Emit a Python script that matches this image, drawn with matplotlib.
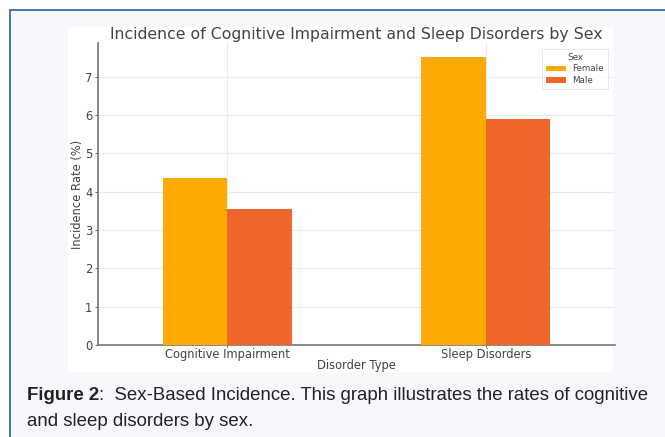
import numpy as np
import matplotlib.pyplot as plt
from matplotlib.patches import Rectangle

plt.rcParams['font.family'] = ['DejaVu Sans']

# data
categories = ['Cognitive Impairment', 'Sleep Disorders']
sexes = ['Female', 'Male']
female_rate = [4.35, 7.5]
male_rate = [3.55, 5.9]
colors = ['#FDAA04', '#F0662A']

W, H = 665, 437
fig = plt.figure(figsize=(W / 100, H / 100), dpi=100)
fig.patch.set_facecolor('white')

def px(x0, y0, x1, y1):
    # pixel box (top-left origin) -> figure fraction [l, b, w, h]
    return [x0 / W, 1 - y1 / H, (x1 - x0) / W, (y1 - y0) / H]

# panel background with blue frame
l, b, w, h = px(10, 10, 680, 460)
fig.patches.append(Rectangle((l, b), w, h, transform=fig.transFigure,
                             facecolor='#F6F8FC', edgecolor='#3D68A8',
                             linewidth=1.3, zorder=0))
# white chart image area
l, b, w, h = px(68, 27, 613, 372)
fig.patches.append(Rectangle((l, b), w, h, transform=fig.transFigure,
                             facecolor='white', edgecolor='none', zorder=1))

ax = fig.add_axes(px(98, 43, 615, 345))
ax.set_facecolor('none')
ax.set_zorder(2)

x = np.arange(len(categories))
bw = 0.25
ax.bar(x - bw / 2, female_rate, bw, color=colors[0], label=sexes[0], zorder=3)
ax.bar(x + bw / 2, male_rate, bw, color=colors[1], label=sexes[1], zorder=3)

ax.set_xlim(-0.5, 1.5)
ax.set_ylim(0, max(female_rate) * 1.05)
ax.set_xticks(x)
ax.set_xticklabels(categories)
ax.set_yticks(range(0, 8))

txt = '#444444'
ax.set_title('Incidence of Cognitive Impairment and Sleep Disorders by Sex',
             fontsize=11.3, color=txt, pad=3)
ax.set_xlabel('Disorder Type', fontsize=8.3, color=txt, labelpad=-1)
ax.set_ylabel('Incidence Rate (%)', fontsize=8.3, color=txt, labelpad=1)
ax.tick_params(labelsize=8.3, colors=txt, length=2.5, width=0.6, pad=1.5)
ax.tick_params(axis='x', length=1.5, pad=0.5)

ax.grid(True, color='#EBEBEB', linewidth=0.8, zorder=0)
for s in ['top', 'right']:
    ax.spines[s].set_visible(False)
for s in ['left', 'bottom']:
    ax.spines[s].set_color('#777777')
    ax.spines[s].set_linewidth(1.2)

leg = ax.legend(title='Sex', fontsize=6.3, title_fontsize=6.3,
                loc='upper right', bbox_to_anchor=(0.995, 0.995),
                handlelength=2.2, handleheight=0.6, labelcolor=txt,
                frameon=True, fancybox=False, borderpad=0.45,
                labelspacing=0.3)
leg.get_title().set_color(txt)
leg.get_frame().set_edgecolor('#DDDDDD')
leg.get_frame().set_linewidth(0.6)

# caption
cap_font = ['Liberation Sans', 'DejaVu Sans']
cap_size = 13.4
t1 = fig.text(27 / W, 1 - 396 / H, 'Figure 2', fontsize=cap_size, fontweight='bold',
              family=cap_font, color='#222222', va='center', ha='left')
fig.canvas.draw()
bb = t1.get_window_extent()
fig.text(bb.x1 / W, 1 - 396 / H,
         ':  Sex-Based Incidence. This graph illustrates the rates of cognitive',
         fontsize=cap_size, family=cap_font, color='#222222', va='center', ha='left')
fig.text(27 / W, 1 - 421 / H, 'and sleep disorders by sex.', fontsize=cap_size,
         family=cap_font, color='#222222', va='center', ha='left')

fig.savefig('out.png', dpi=100, facecolor=fig.get_facecolor())
